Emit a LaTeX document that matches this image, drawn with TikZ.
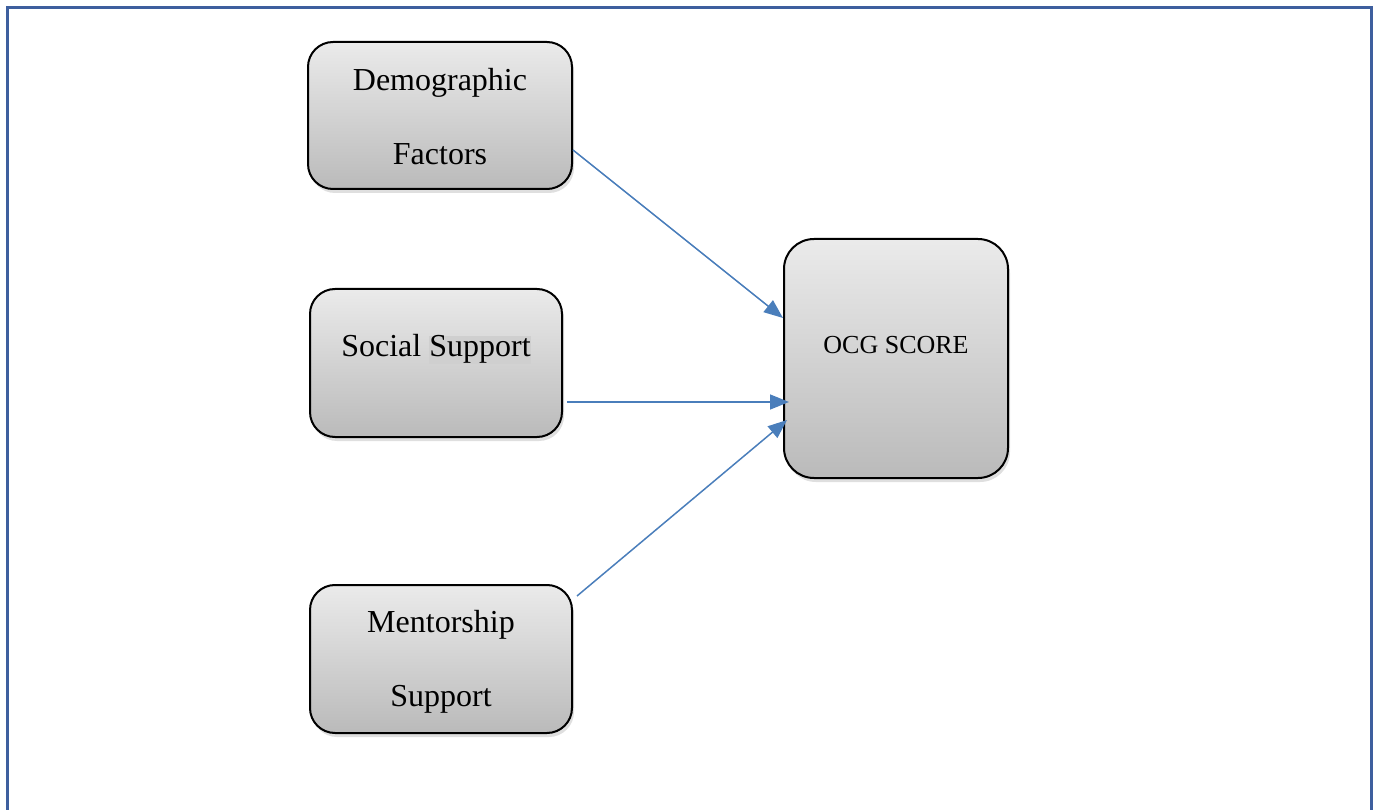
\documentclass[tikz,border=0pt]{standalone}
\usepackage{fontspec}
\setmainfont{Liberation Serif}
\usetikzlibrary{arrows.meta,shadows}

\definecolor{framecol}{HTML}{3E5F9E}
\definecolor{arrcol}{HTML}{4A7EBB}

\tikzset{
  factor/.style={draw=black, line width=2pt, rounded corners=25pt,
    top color=black!8, bottom color=black!27,
    drop shadow={shadow xshift=2pt, shadow yshift=-4pt, opacity=0.25}},
  lbl/.style={align=center, font=\fontsize{32}{74}\selectfont},
  link/.style={draw=arrcol, line width=1.5pt, -{Triangle[length=19pt,width=15pt]}}
}

\begin{document}
\begin{tikzpicture}[x=1pt,y=-1pt]
\useasboundingbox (0,0) rectangle (1374,810);
\draw[framecol, line width=3pt] (7.5,815) -- (7.5,7.5) -- (1371.5,7.5) -- (1371.5,815);

% boxes
\node[factor, minimum width=264pt, minimum height=147pt] (demo) at (440,115.5) {};
\node[factor, minimum width=252pt, minimum height=148pt] (social) at (436,363) {};
\node[factor, minimum width=262pt, minimum height=148pt] (mentor) at (441,659) {};
\node[factor, minimum width=224pt, minimum height=239pt, rounded corners=30pt] (ocg) at (896,358.5) {};

% texts
\node[lbl] (demo-t) at (440,117) {Demographic\\Factors};
\node[lbl, anchor=base] (social-t) at (436,357)
  {Social {\setlength{\fboxsep}{0pt}\colorbox{black!19}{Support}}};
\node[lbl] (mentor-t) at (441,661.5) {Mentorship\\Support};
\node[anchor=base, font=\fontsize{26}{30}\selectfont] (ocg-t) at (896,354) {OCG SCORE};

% arrows
\draw[link] ([yshift=-34.5pt]demo.east) -- ([yshift=40.5pt]ocg.west);
\draw[link] ([xshift=4pt,yshift=-39pt]social.east) -- ([xshift=6pt,yshift=-43.5pt]ocg.west);
\draw[link] ([xshift=4pt,yshift=63pt]mentor.east) -- ([xshift=4pt,yshift=-61.5pt]ocg.west);
\end{tikzpicture}
\end{document}
